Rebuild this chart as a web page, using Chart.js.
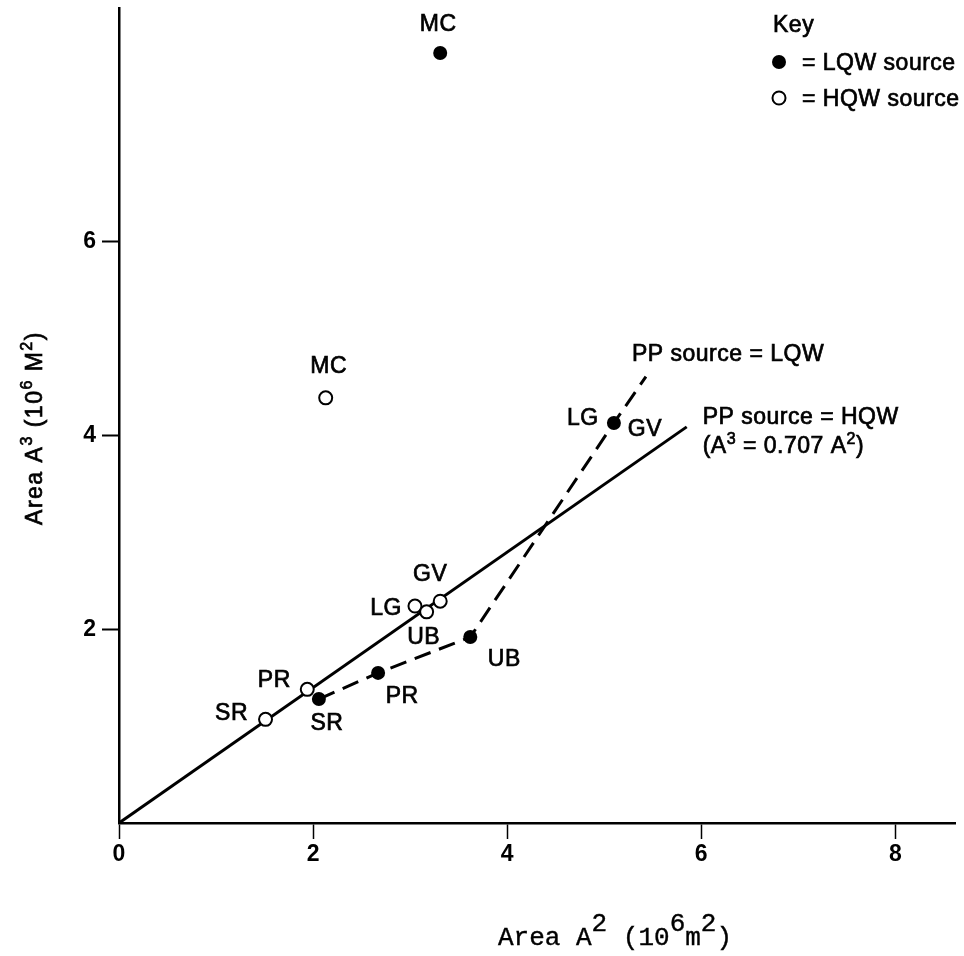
<!DOCTYPE html>
<html>
<head>
<meta charset="utf-8">
<script src="https://cdn.jsdelivr.net/npm/chart.js@4"></script>
<style>
  html, body { margin: 0; padding: 0; background: #fff; }
  canvas { display: block; }
</style>
</head>
<body>
<canvas id="chart" width="964" height="956"></canvas>
<script>
// axis ticks
const xTickValues = [0, 2, 4, 6, 8];
const yTickValues = [2, 4, 6];

// LQW source (filled dots)
const lqwNames = ["SR", "PR", "UB", "LG GV", "MC"];
const lqwA2 = [2.06, 2.67, 3.62, 5.10, 3.31];
const lqwA3 = [1.28, 1.55, 1.92, 4.13, 7.95];

// HQW source (open circles)
const hqwNames = ["SR", "PR", "LG", "UB", "GV", "MC"];
const hqwA2 = [1.51, 1.94, 3.05, 3.17, 3.31, 2.13];
const hqwA3 = [1.07, 1.38, 2.24, 2.18, 2.29, 4.39];

// PP source = LQW (dashed) and PP source = HQW (solid, A3 = 0.707 A2)
const lqwLineA2 = [2.06, 2.67, 3.62, 5.10, 5.43];
const lqwLineA3 = [1.28, 1.55, 1.92, 4.13, 4.61];
const hqwLineA2 = [0, 5.85];
const hqwLineA3 = [0, 4.09];

// where the names sit next to each marker, px from the marker
const lqwNameSpots = [[[8, 23]], [[24, 22]], [[34, 21]], [[-31, -6], [31, 5]], [[-2, -30]]];
const hqwNameSpots = [[[-34, -7]], [[-33, -10]], [[-29, 1]], [[-3, 24]], [[-10, -28]], [[3, -33]]];

const SANS = "'Liberation Sans', Arial, sans-serif";
const MONO = "'Liberation Mono', 'Courier New', monospace";
const TXT = "23px " + SANS;
const SUP = "16px " + SANS;

const pts = (xs, ys) => xs.map((x, i) => ({ x: x, y: ys[i] }));

// text with raised parts: parts = [[text, isSup], ...]
function richWidth(ctx, parts, font, supFont) {
  let w = 0;
  parts.forEach(p => { ctx.font = p[1] ? supFont : font; w += ctx.measureText(p[0]).width; });
  return w;
}
function richText(ctx, parts, x, y, font, supFont, rise, heavy) {
  parts.forEach(p => {
    ctx.font = p[1] ? supFont : font;
    const yy = p[1] ? y - rise : y;
    ctx.fillText(p[0], x, yy);
    if (heavy) ctx.strokeText(p[0], x, yy);
    x += ctx.measureText(p[0]).width;
  });
}

function label(ctx, text, x, y, align) {
  ctx.textAlign = align || "center";
  ctx.fillText(text, x, y);
  ctx.strokeText(text, x, y);
}

const annotate = {
  id: "annotate",
  afterDatasetsDraw(chart) {
    const ctx = chart.ctx;
    const xs = chart.scales.x, ys = chart.scales.y;
    ctx.save();
    ctx.fillStyle = "#000";
    ctx.strokeStyle = "#000";
    ctx.lineWidth = 0.7;
    ctx.letterSpacing = "0.5px";
    ctx.textBaseline = "alphabetic";
    ctx.font = TXT;
    const cap = 8;

    // point names
    const putNames = (names, a2, a3, spots) => {
      names.forEach((n, i) => {
        const px = xs.getPixelForValue(a2[i]);
        const py = ys.getPixelForValue(a3[i]);
        n.split(" ").forEach((t, k) => {
          const s = spots[i][k];
          label(ctx, t, px + s[0], py + s[1] + cap);
        });
      });
    };
    putNames(lqwNames, lqwA2, lqwA3, lqwNameSpots);
    putNames(hqwNames, hqwA2, hqwA3, hqwNameSpots);

    // line captions
    const dEnd = lqwLineA2.length - 1;
    const dx = xs.getPixelForValue(lqwLineA2[dEnd]);
    const dy = ys.getPixelForValue(lqwLineA3[dEnd]);
    label(ctx, "PP source = LQW", dx - 14, dy - 24 + cap, "left");
    const sx = xs.getPixelForValue(hqwLineA2[1]);
    const sy = ys.getPixelForValue(hqwLineA3[1]);
    label(ctx, "PP source = HQW", sx + 16, sy - 11 + cap, "left");
    ctx.textAlign = "left";
    richText(ctx, [["(A", 0], ["3", 1], [" = 0.707 A", 0], ["2", 1], [")", 0]],
      sx + 16, sy + 18 + cap, TXT, SUP, 9, true);

    // key
    ctx.font = TXT;
    label(ctx, "Key", 773, 24 + cap, "left");
    label(ctx, "= LQW source", 802, 62 + cap, "left");
    label(ctx, "= HQW source", 802, 98 + cap, "left");
    ctx.beginPath();
    ctx.arc(779, 62, 7, 0, Math.PI * 2);
    ctx.fill();
    ctx.beginPath();
    ctx.lineWidth = 2;
    ctx.arc(779, 98, 6.5, 0, Math.PI * 2);
    ctx.stroke();
    ctx.lineWidth = 0.7;

    // y axis title
    const yParts = [["Area A", 0], ["3", 1], [" (10", 0], ["6", 1], [" M", 0], ["2", 1], [")", 0]];
    ctx.letterSpacing = "1.5px";
    const yw = richWidth(ctx, yParts, TXT, SUP);
    ctx.save();
    ctx.translate(34, 428);
    ctx.rotate(-Math.PI / 2);
    richText(ctx, yParts, -yw / 2, cap, TXT, SUP, 10, true);
    ctx.restore();

    // x axis title, typewriter style
    ctx.letterSpacing = "0px";
    ctx.lineWidth = 0.4;
    richText(ctx, [["Area A", 0], ["2", 1], [" (10", 0], ["6", 1], ["m", 0], ["2", 1], [")", 0]],
      498, 945, "26px " + MONO, "26px " + MONO, 14, true);
    ctx.restore();
  }
};

const tickFont = { family: SANS, size: 23, weight: "bold" };

new Chart(document.getElementById("chart"), {
  type: "scatter",
  data: {
    datasets: [
      {
        label: "LQW source",
        data: pts(lqwA2, lqwA3),
        pointStyle: "circle",
        pointRadius: 7,
        pointBackgroundColor: "#000",
        pointBorderColor: "#000",
        pointBorderWidth: 0,
        order: 0,
        clip: false
      },
      {
        label: "HQW source",
        data: pts(hqwA2, hqwA3),
        pointStyle: "circle",
        pointRadius: 6.5,
        pointBackgroundColor: "#fff",
        pointBorderColor: "#000",
        pointBorderWidth: 2,
        order: 0,
        clip: false
      },
      {
        label: "PP source = LQW",
        type: "line",
        data: pts(lqwLineA2, lqwLineA3),
        borderColor: "#000",
        borderWidth: 3,
        borderDash: [17, 9],
        pointRadius: 0,
        fill: false,
        tension: 0,
        order: 2,
        clip: false
      },
      {
        label: "PP source = HQW",
        type: "line",
        data: pts(hqwLineA2, hqwLineA3),
        borderColor: "#000",
        borderWidth: 3,
        pointRadius: 0,
        fill: false,
        tension: 0,
        order: 3,
        clip: false
      }
    ]
  },
  options: {
    responsive: false,
    animation: false,
    devicePixelRatio: 1,
    layout: { padding: { top: 8, right: 2, left: 0, bottom: 0 } },
    plugins: {
      legend: { display: false },
      tooltip: { enabled: false },
      title: { display: false }
    },
    scales: {
      x: {
        type: "linear",
        position: "bottom",
        min: 0,
        max: 8.62,
        afterBuildTicks: s => { s.ticks = xTickValues.map(v => ({ value: v })); },
        afterFit: s => { s.height = 133; s.paddingLeft = 0; s.paddingRight = 0; },
        ticks: { font: tickFont, color: "#000", padding: 2, maxRotation: 0 },
        grid: { drawOnChartArea: false, drawTicks: true, tickLength: 16, tickWidth: 1.5, tickColor: "#000" },
        border: { display: true, color: "#000", width: 2.5 },
        title: { display: false }
      },
      y: {
        type: "linear",
        min: 0,
        max: 8.41,
        afterBuildTicks: s => { s.ticks = yTickValues.map(v => ({ value: v })); },
        afterFit: s => { s.width = 119; s.paddingTop = 0; s.paddingBottom = 0; },
        ticks: { font: tickFont, color: "#000", padding: 6 },
        grid: { drawOnChartArea: false, drawTicks: true, tickLength: 17, tickWidth: 2, tickColor: "#000" },
        border: { display: true, color: "#000", width: 2.5 },
        title: { display: false }
      }
    }
  },
  plugins: [annotate]
});
</script>
</body>
</html>
